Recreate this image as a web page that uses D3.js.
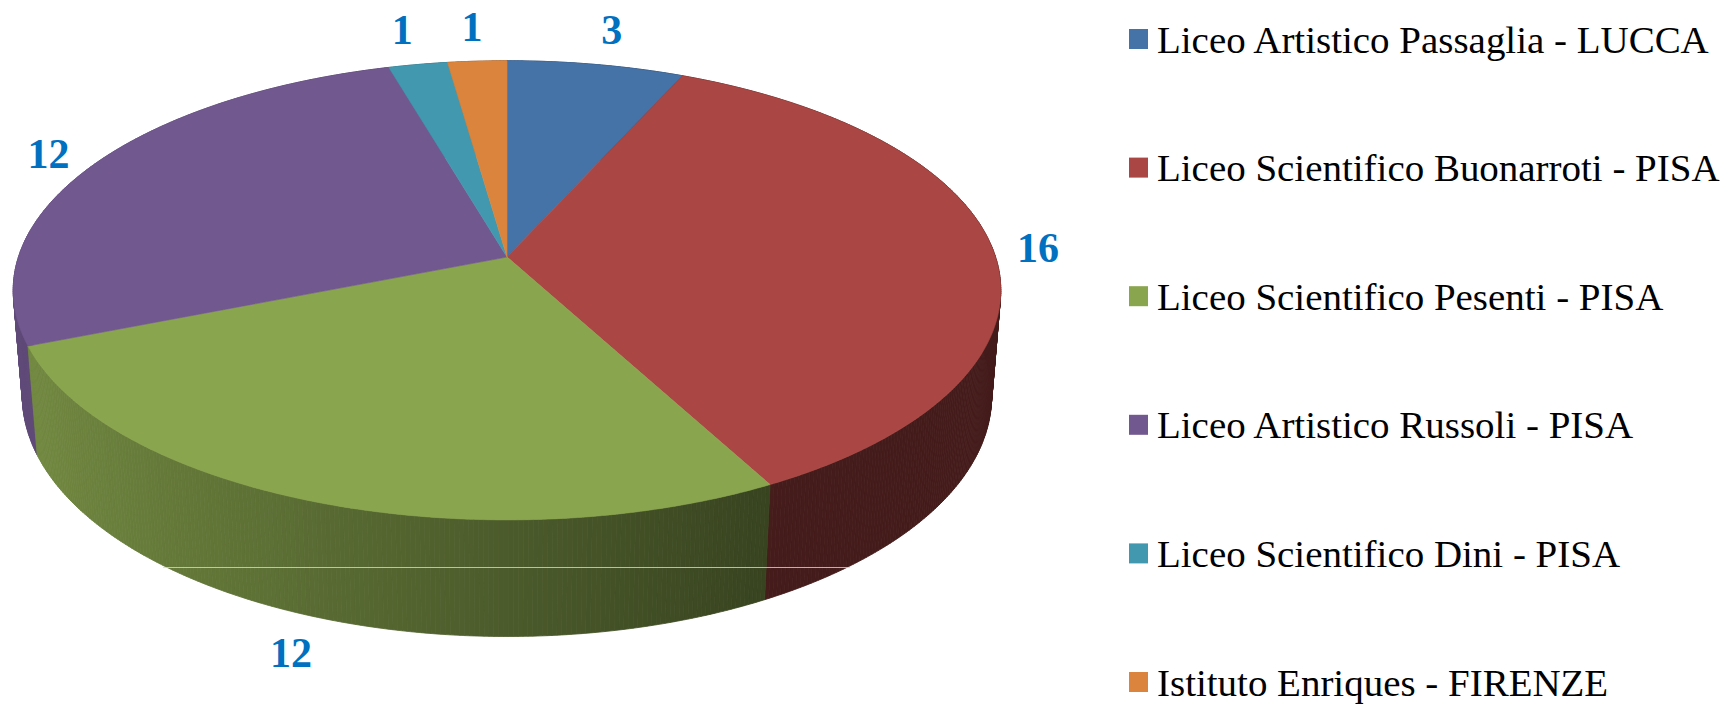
<!doctype html>
<html>
<head>
<meta charset="utf-8" />
<title>Scuole</title>
<script src="https://cdn.jsdelivr.net/npm/d3@7"></script>
<style>
  html, body { margin: 0; padding: 0; background: #fff; overflow: hidden; }
</style>
</head>
<body>
<script>
// data
const schools = [
  "Liceo Artistico Passaglia - LUCCA",
  "Liceo Scientifico Buonarroti - PISA",
  "Liceo Scientifico Pesenti - PISA",
  "Liceo Artistico Russoli - PISA",
  "Liceo Scientifico Dini - PISA",
  "Istituto Enriques - FIRENZE"
];
const counts = [3, 16, 12, 12, 1, 1];
const sliceColors = ["#4572a7", "#aa4643", "#89a54e", "#71588f", "#4198af", "#db843d"];

const width = 1731, height = 704;

// perspective set-up for the 3D disc
const cx = 507, cy = 257;      // screen position of the disc centre
const focal = 2990, dist = 6.12;
const sinT = 0.46, cosT = Math.sqrt(1 - sinT * sinT);
const depth = 0.246;           // thickness of the disc, in radii

function project(phi, r, y) {
  const X = r * Math.sin(phi), Z = -r * Math.cos(phi);
  const yc = y * cosT - Z * sinT;
  const zc = y * sinT + Z * cosT;
  const w = dist - zc;
  return [cx + focal * X / w, cy - focal * yc / w, zc];
}

const svg = d3.select("body").append("svg")
  .attr("width", width)
  .attr("height", height);

svg.append("rect").attr("width", width).attr("height", height).attr("fill", "#fff");

const pie = d3.pie().sort(null).startAngle(0).endAngle(2 * Math.PI);
const arcs = pie(counts);

const step = Math.PI / 360;
function arcAngles(a) {
  const n = Math.max(2, Math.ceil((a.endAngle - a.startAngle) / step));
  return d3.range(n + 1).map(i => a.startAngle + (a.endAngle - a.startAngle) * i / n);
}

// side of the disc, as thin strips shaded by the direction they face
const strips = [];
arcs.forEach((a, i) => {
  const angs = arcAngles(a);
  for (let k = 0; k < angs.length - 1; k++) {
    const a0 = angs[k], a1 = angs[k + 1], m = (a0 + a1) / 2;
    const pts = [project(a0, 1, 0), project(a1, 1, 0), project(a1, 1, -depth), project(a0, 1, -depth)];
    const shade = Math.max(0.4, Math.min(0.85, 0.55 - 0.3 * Math.sin(m)));
    const c = d3.rgb(sliceColors[i]);
    strips.push({
      pts: pts,
      z: project(m, 1, -depth / 2)[2],
      color: d3.rgb(c.r * shade, c.g * shade, c.b * shade).formatHex()
    });
  }
});
strips.sort((p, q) => p.z - q.z);

const line = d3.line();

svg.append("g")
  .selectAll("path")
  .data(strips)
  .join("path")
  .attr("d", d => line(d.pts.map(p => [p[0], p[1]])) + "Z")
  .attr("fill", d => d.color)
  .attr("stroke", d => d.color)
  .attr("stroke-width", 0.8);

// thin light artefact line across the side
svg.append("line")
  .attr("x1", 163).attr("x2", 850)
  .attr("y1", 567.5).attr("y2", 567.5)
  .attr("stroke", "#d8d8d0")
  .attr("stroke-width", 1)
  .attr("opacity", 0.8);

// top face
svg.append("g")
  .selectAll("path")
  .data(arcs)
  .join("path")
  .attr("d", a => {
    const c = project(0, 0, 0);
    const pts = [[c[0], c[1]]].concat(arcAngles(a).map(t => {
      const p = project(t, 1, 0);
      return [p[0], p[1]];
    }));
    return line(pts) + "Z";
  })
  .attr("fill", (a, i) => sliceColors[i])
  .attr("stroke", (a, i) => sliceColors[i])
  .attr("stroke-width", 0.6);

// value labels outside the disc
const labelGap = 24;
svg.append("g")
  .selectAll("text")
  .data(arcs)
  .join("text")
  .attr("text-anchor", "middle")
  .attr("dominant-baseline", "central")
  .attr("font-family", "'Liberation Serif', serif")
  .attr("font-weight", "bold")
  .attr("font-size", 42)
  .attr("fill", "#0070c0")
  .text(a => a.data)
  .each(function(a) {
    const m = (a.startAngle + a.endAngle) / 2;
    const front = -Math.cos(m) > 0;
    const yLevel = front ? -depth : 0;
    const p = project(m, 1, yLevel), o = project(0, 0, yLevel);
    const dx = p[0] - o[0], dy = p[1] - o[1], len = Math.hypot(dx, dy);
    const ux = dx / len, uy = dy / len;
    const bb = this.getBBox();
    const gap = labelGap + Math.abs(ux) * bb.width / 2 + Math.abs(uy) * 10;
    d3.select(this)
      .attr("x", p[0] + gap * ux)
      .attr("y", Math.max(bb.height / 2 + 4, p[1] + gap * uy));
  });

// legend
const legendY = d3.scalePoint().domain(schools).range([39, 682]);
const legend = svg.append("g");
const rows = legend.selectAll("g")
  .data(schools)
  .join("g")
  .attr("transform", d => `translate(1129,${legendY(d)})`);

rows.append("rect")
  .attr("x", 0).attr("y", -10)
  .attr("width", 19).attr("height", 20)
  .attr("fill", (d, i) => sliceColors[i]);

const legendText = rows.append("text")
  .attr("x", 28)
  .attr("y", 0)
  .attr("dominant-baseline", "central")
  .attr("font-family", "'Liberation Serif', serif")
  .attr("font-size", 40)
  .attr("fill", "#000")
  .text(d => d);

// fit the legend font to the width of the first entry
const w0 = legendText.node().getComputedTextLength();
legendText.attr("font-size", 40 * 552 / w0);
</script>
</body>
</html>
